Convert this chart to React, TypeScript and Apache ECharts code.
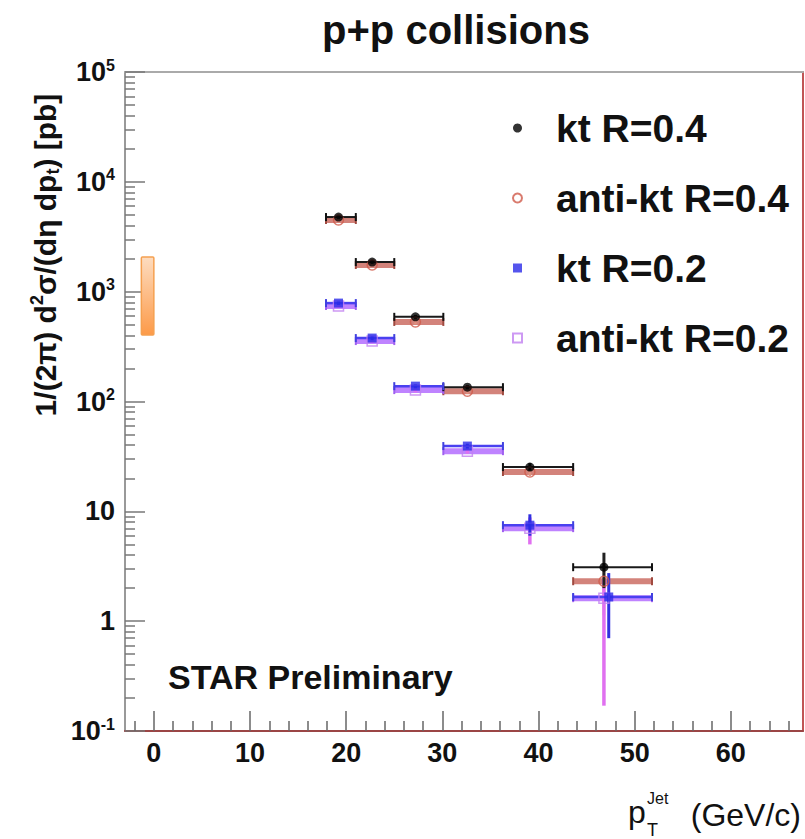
import React, { useEffect, useRef } from "react";
import * as echarts from "echarts";

const FONT = "'Liberation Sans', Arial, Helvetica, sans-serif";

// ---- axis ranges & ticks ----
const X_MIN = -3;
const X_MAX = 67.5;
const Y_MIN = 0.1;
const Y_MAX = 100000;
const xMajorTicks = [0, 10, 20, 30, 40, 50, 60];
const xMinorTicks = [-2, 2, 4, 6, 8, 12, 14, 16, 18, 22, 24, 26, 28, 32, 34, 36, 38, 42, 44, 46, 48, 52, 54, 56, 58, 62, 64, 66];
const yMinorMantissas = [2, 3, 4, 5, 6, 7, 8, 9];
const yMinorDecades = [0.1, 1, 10, 100, 1000, 10000];
const yTickBase = ["10", "1", "10", "10", "10", "10", "10"];
const yTickExp = ["-1", "", "", "2", "3", "4", "5"];
const yTickValues = [0.1, 1, 10, 100, 1000, 10000, 100000];

// ---- data ----
const binLow = [17.9, 21.0, 25.0, 30.1, 36.3, 43.6];
const binHigh = [21.0, 25.0, 30.1, 36.3, 43.6, 51.8];

const ktR04X = [19.2, 22.7, 27.2, 32.6, 39.1, 46.8];
const ktR04 = [4780, 1860, 590, 135, 25.3, 3.1];
const ktR04Lo = [4600, 1790, 565, 129, 23.5, 2.0];
const ktR04Hi = [4960, 1930, 615, 141, 27.5, 4.2];

const antiKtR04X = [19.2, 22.7, 27.2, 32.6, 39.1, 46.8];
const antiKtR04 = [4490, 1750, 530, 124, 22.8, 2.31];
const antiKtR04Lo = [4320, 1680, 505, 118, 21.0, 1.13];
const antiKtR04Hi = [4660, 1820, 555, 130, 24.8, 3.4];

const ktR02X = [19.2, 22.7, 27.2, 32.6, 39.1, 47.3];
const ktR02 = [787, 378, 138, 39.3, 7.48, 1.66];
const ktR02Lo = [757, 362, 132, 37.3, 6.0, 0.7];
const ktR02Hi = [817, 394, 144, 41.3, 9.4, 2.74];

const antiKtR02X = [19.2, 22.7, 27.2, 32.6, 39.1, 46.8];
const antiKtR02 = [740, 355, 127, 35.3, 7.03, 1.62];
const antiKtR02Lo = [712, 340, 121, 33.5, 5.0, 0.17];
const antiKtR02Hi = [768, 370, 133, 37.1, 8.8, 2.4];

// normalisation uncertainty box [x0, x1], [y0, y1]
const normBoxX = [-1.3, 0.0];
const normBoxY = [403, 2065];

const seriesNames = ["kt R=0.4", "anti-kt R=0.4", "kt R=0.2", "anti-kt R=0.2"];

type ErrStyle = { h: string; hw: number; v: string; vw: number; cap: number; capColor: string; z: number };

function makeErrSeries(id: string, xs: number[], ys: number[], lo: number[], hi: number[], st: ErrStyle) {
  return {
    type: "custom",
    name: id,
    xAxisIndex: 0,
    yAxisIndex: 0,
    silent: true,
    z: st.z,
    data: xs.map((x, i) => [x, ys[i], binLow[i], binHigh[i], lo[i], hi[i]]),
    renderItem: (_params: any, api: any) => {
      const x = api.value(0);
      const y = api.value(1);
      const l = api.coord([api.value(2), y]);
      const r = api.coord([api.value(3), y]);
      const t = api.coord([x, api.value(5)]);
      const b = api.coord([x, api.value(4)]);
      return {
        type: "group",
        children: [
          { type: "line", shape: { x1: l[0], y1: l[1], x2: r[0], y2: r[1] }, style: { stroke: st.h, lineWidth: st.hw } },
          { type: "line", shape: { x1: l[0], y1: l[1] - st.cap, x2: l[0], y2: l[1] + st.cap }, style: { stroke: st.capColor, lineWidth: 2 } },
          { type: "line", shape: { x1: r[0], y1: r[1] - st.cap, x2: r[0], y2: r[1] + st.cap }, style: { stroke: st.capColor, lineWidth: 2 } },
          { type: "line", shape: { x1: t[0], y1: t[1], x2: b[0], y2: b[1] }, style: { stroke: st.v, lineWidth: st.vw } },
        ],
      };
    },
  };
}

function buildOption() {
  const yMinorTicks: number[] = [];
  yMinorDecades.forEach((d) => yMinorMantissas.forEach((m) => yMinorTicks.push(Math.log10(m * d))));

  const labelRich = {
    b: { fontSize: 27, fontWeight: "bold", fontFamily: FONT, color: "#111", lineHeight: 30 },
    e: { fontSize: 16, fontWeight: "bold", fontFamily: FONT, color: "#111", lineHeight: 16, verticalAlign: "top" },
  };

  return {
    animation: false,
    backgroundColor: "#ffffff",
    grid: { left: 125, top: 72, right: 2, bottom: 108, show: false },
    legend: {
      data: seriesNames,
      orient: "vertical",
      left: 507,
      top: 103,
      itemWidth: 9,
      itemHeight: 9,
      itemGap: 30,
      symbolKeepAspect: true,
      selectedMode: false,
      textStyle: { fontSize: 39, fontWeight: "bold", fontFamily: FONT, color: "#111", lineHeight: 40, padding: [0, 0, 0, 29] },
    },
    xAxis: [
      {
        type: "value",
        position: "bottom",
        min: X_MIN,
        max: X_MAX,
        axisLine: { onZero: false, lineStyle: { color: "#9b4545", width: 2 } },
        axisTick: { inside: true, length: 20, customValues: xMajorTicks, lineStyle: { color: "#666", width: 1.5 } },
        axisLabel: { customValues: xMajorTicks, margin: 8, fontSize: 27, fontWeight: "bold", color: "#111", fontFamily: FONT },
        splitLine: { show: false },
      },
      {
        type: "value",
        position: "bottom",
        min: X_MIN,
        max: X_MAX,
        axisLine: { show: false, onZero: false },
        axisTick: { inside: true, length: 10, customValues: xMinorTicks, lineStyle: { color: "#666", width: 1.5 } },
        axisLabel: { show: false },
        splitLine: { show: false },
      },
      {
        type: "value",
        position: "top",
        min: X_MIN,
        max: X_MAX,
        axisLine: { onZero: false, lineStyle: { color: "#aaaaaa", width: 2 } },
        axisTick: { show: false },
        axisLabel: { show: false },
        splitLine: { show: false },
      },
    ],
    yAxis: [
      {
        type: "log",
        logBase: 10,
        position: "left",
        min: Y_MIN,
        max: Y_MAX,
        axisLine: { onZero: false, lineStyle: { color: "#999", width: 2 } },
        axisTick: { inside: true, length: 20, lineStyle: { color: "#777", width: 1.5 } },
        axisLabel: {
          margin: 10,
          formatter: (v: number) => {
            let idx = 0;
            let best = Infinity;
            yTickValues.forEach((t, i) => {
              const d = Math.abs(Math.log10(t) - Math.log10(v));
              if (d < best) { best = d; idx = i; }
            });
            return yTickExp[idx] ? `{b|${yTickBase[idx]}}{e|${yTickExp[idx]}}` : `{b|${yTickBase[idx]}}`;
          },
          rich: labelRich,
        },
        splitLine: { show: false },
      },
      {
        type: "value",
        position: "left",
        min: -1,
        max: 5,
        axisLine: { show: false, onZero: false },
        axisTick: { inside: true, length: 10, customValues: yMinorTicks, lineStyle: { color: "#777", width: 1.5 } },
        axisLabel: { show: false },
        splitLine: { show: false },
      },
      {
        type: "value",
        position: "right",
        min: 0,
        max: 1,
        axisLine: { onZero: false, lineStyle: { color: "#c05555", width: 2 } },
        axisTick: { show: false },
        axisLabel: { show: false },
        splitLine: { show: false },
      },
    ],
    graphic: [
      {
        type: "text",
        x: 456,
        y: 30,
        style: {
          text: "p+p collisions",
          fontSize: 40,
          fontWeight: "bold",
          fontFamily: FONT,
          fill: "#111",
          align: "center",
          verticalAlign: "middle",
        },
      },
      {
        type: "text",
        x: 45,
        y: 255,
        rotation: Math.PI / 2,
        style: {
          text: "{n|1/(2π) d}{sup|2}{n|σ/(dη dp}{sub|t}{n|) [pb]}",
          align: "center",
          verticalAlign: "middle",
          fill: "#111",
          rich: {
            n: { fontSize: 30, fontWeight: "bold", fontFamily: FONT, lineHeight: 34, fill: "#111" },
            sup: { fontSize: 18, fontWeight: "bold", fontFamily: FONT, lineHeight: 18, verticalAlign: "top", fill: "#111" },
            sub: { fontSize: 18, fontWeight: "bold", fontFamily: FONT, lineHeight: 18, verticalAlign: "bottom", fill: "#111" },
          },
        },
      },
      {
        type: "text",
        x: 168,
        y: 677,
        style: { text: "STAR Preliminary", fontSize: 34, fontWeight: "bold", fontFamily: FONT, fill: "#111", verticalAlign: "middle" },
      },
      {
        type: "text",
        x: 801,
        y: 815,
        style: { text: "(GeV/c)", fontSize: 32, fontFamily: FONT, fill: "#111", align: "right", verticalAlign: "middle" },
      },
      {
        type: "text",
        x: 628,
        y: 812,
        style: { text: "p", fontSize: 32, fontFamily: FONT, fill: "#111", align: "left", verticalAlign: "middle" },
      },
      {
        type: "text",
        x: 647,
        y: 798,
        style: { text: "Jet", fontSize: 16, fontFamily: FONT, fill: "#111", align: "left", verticalAlign: "middle" },
      },
      {
        type: "text",
        x: 647,
        y: 830,
        style: { text: "T", fontSize: 18, fontFamily: FONT, fill: "#111", align: "left", verticalAlign: "middle" },
      },
    ],
    series: [
      {
        type: "custom",
        name: "norm",
        xAxisIndex: 0,
        yAxisIndex: 0,
        silent: true,
        data: [[normBoxX[0], normBoxY[0], normBoxX[1], normBoxY[1]]],
        renderItem: (_p: any, api: any) => {
          const a = api.coord([api.value(0), api.value(3)]);
          const b = api.coord([api.value(2), api.value(1)]);
          return {
            type: "rect",
            shape: { x: a[0], y: a[1], width: b[0] - a[0], height: b[1] - a[1], r: 1 },
            style: {
              fill: new echarts.graphic.LinearGradient(0, 0, 0, 1, [
                { offset: 0, color: "#fddcc0" },
                { offset: 1, color: "#fd9a48" },
              ]),
              stroke: "#f5a050",
              lineWidth: 1.5,
            },
          };
        },
      },
      makeErrSeries("err-antikt04", antiKtR04X, antiKtR04, antiKtR04Lo, antiKtR04Hi, {
        h: "rgba(200,100,90,0.8)", hw: 6, v: "#e0907e", vw: 2.5, cap: 4, capColor: "#a04a40", z: 2,
      }),
      makeErrSeries("err-kt04", ktR04X, ktR04, ktR04Lo, ktR04Hi, {
        h: "#1a1a1a", hw: 2, v: "#222", vw: 3, cap: 4, capColor: "#111", z: 3,
      }),
      makeErrSeries("err-antikt02", antiKtR02X, antiKtR02, antiKtR02Lo, antiKtR02Hi, {
        h: "rgba(170,90,255,0.75)", hw: 6, v: "#e070f0", vw: 3.5, cap: 4, capColor: "#a060f0", z: 2,
      }),
      makeErrSeries("err-kt02", ktR02X, ktR02, ktR02Lo, ktR02Hi, {
        h: "#4a40f0", hw: 2.5, v: "#3030e0", vw: 3, cap: 4, capColor: "#4040e0", z: 3,
      }),
      {
        type: "scatter",
        name: seriesNames[1],
        xAxisIndex: 0,
        yAxisIndex: 0,
        z: 4,
        symbol: "circle",
        symbolSize: 10,
        itemStyle: { color: "rgba(255,255,255,0)", borderColor: "#d05a4a", borderWidth: 1.5 },
        data: antiKtR04X.map((x, i) => [x, antiKtR04[i]]),
      },
      {
        type: "scatter",
        name: seriesNames[0],
        xAxisIndex: 0,
        yAxisIndex: 0,
        z: 5,
        symbol: "circle",
        symbolSize: 9,
        itemStyle: { color: "#000" },
        data: ktR04X.map((x, i) => [x, ktR04[i]]),
      },
      {
        type: "scatter",
        name: seriesNames[3],
        xAxisIndex: 0,
        yAxisIndex: 0,
        z: 4,
        symbol: "rect",
        symbolSize: 10,
        itemStyle: { color: "rgba(255,255,255,0)", borderColor: "#c080f0", borderWidth: 1.5 },
        data: antiKtR02X.map((x, i) => [x, antiKtR02[i]]),
      },
      {
        type: "scatter",
        name: seriesNames[2],
        xAxisIndex: 0,
        yAxisIndex: 0,
        z: 5,
        symbol: "rect",
        symbolSize: 9,
        itemStyle: { color: "#2a2ae8" },
        data: ktR02X.map((x, i) => [x, ktR02[i]]),
      },
    ],
  };
}

export default function App() {
  const ref = useRef<HTMLDivElement>(null);
  useEffect(() => {
    document.body.style.margin = "0";
    const chart = echarts.init(ref.current!, null, { renderer: "svg" });
    chart.setOption(buildOption() as any);
    return () => chart.dispose();
  }, []);
  return <div ref={ref} style={{ width: 805, height: 839 }} />;
}
